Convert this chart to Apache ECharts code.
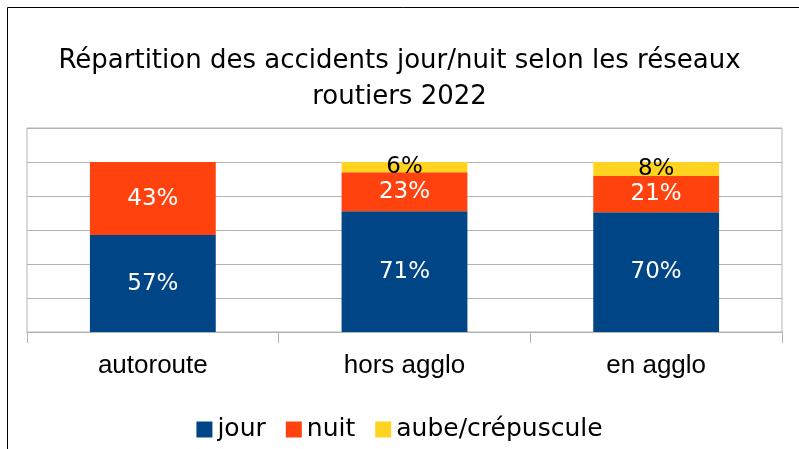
<!DOCTYPE html>
<html>
<head>
<meta charset="utf-8">
<title>Répartition des accidents jour/nuit</title>
<script src="https://cdn.jsdelivr.net/npm/echarts@6/dist/echarts.min.js"></script>
<style>
  html, body { margin: 0; padding: 0; background: #fff; }
  #chart { width: 799px; height: 449px; }
</style>
</head>
<body>
<div id="chart"></div>
<script>
// data (percent of accidents per network)
const categories = ['autoroute', 'hors agglo', 'en agglo']
const jour = [57, 71, 70.4]
const nuit = [43, 23, 21.3]
const aube = [0, 6, 8.3]
const seriesNames = ['jour', 'nuit', 'aube/crépuscule']
const colors = ['#004586', '#ff420e', '#ffd320']

const mainFont = 'DejaVu Sans'
const chart = echarts.init(document.getElementById('chart'))

function pctLabel(color) {
  return {
    show: true,
    position: 'inside',
    color: color,
    fontFamily: mainFont,
    fontSize: 23,
    formatter: (p) => (p.value ? Math.round(p.value) + '%' : '')
  }
}

const seriesData = [jour, nuit, aube]
const labelColors = ['#fff', '#fff', '#000']

const option = {
  animation: false,
  backgroundColor: '#fff',
  title: {
    text: 'Répartition des accidents jour/nuit selon les réseaux\nroutiers 2022',
    left: 'center',
    top: 38,
    textStyle: {
      fontFamily: mainFont,
      fontWeight: 'normal',
      fontSize: 26,
      color: '#000',
      lineHeight: 36
    }
  },
  legend: {
    bottom: 2,
    left: 'center',
    itemWidth: 16,
    itemHeight: 16,
    itemGap: 20,
    icon: 'rect',
    textStyle: { fontFamily: mainFont, fontSize: 25, color: '#000' }
  },
  graphic: [{
    type: 'rect',
    shape: { x: 7.5, y: 7.5, width: 900, height: 600 },
    style: { fill: 'none', stroke: '#000', lineWidth: 1 },
    silent: true
  }],
  grid: {
    left: 27, right: 17, top: 128, bottom: 117,
    show: true,
    borderColor: '#b3b3b3',
    borderWidth: 1
  },
  xAxis: {
    type: 'category',
    data: categories,
    boundaryGap: true,
    axisLine: { lineStyle: { color: '#b3b3b3' } },
    axisTick: { show: true, length: 11, lineStyle: { color: '#b3b3b3' } },
    axisLabel: {
      margin: 21,
      fontFamily: 'Liberation Sans',
      fontSize: 26,
      color: '#000'
    }
  },
  yAxis: {
    type: 'value',
    min: 0,
    max: 120,
    interval: 20,
    axisLabel: { show: false },
    axisLine: { show: false },
    axisTick: { show: false },
    splitLine: { lineStyle: { color: '#b3b3b3' } }
  },
  series: seriesNames.map((name, i) => ({
    name: name,
    type: 'bar',
    stack: 'total',
    barWidth: '50%',
    data: seriesData[i],
    itemStyle: { color: colors[i] },
    label: pctLabel(labelColors[i])
  }))
}

chart.setOption(option)
window.addEventListener('resize', () => chart.resize())
</script>
</body>
</html>
